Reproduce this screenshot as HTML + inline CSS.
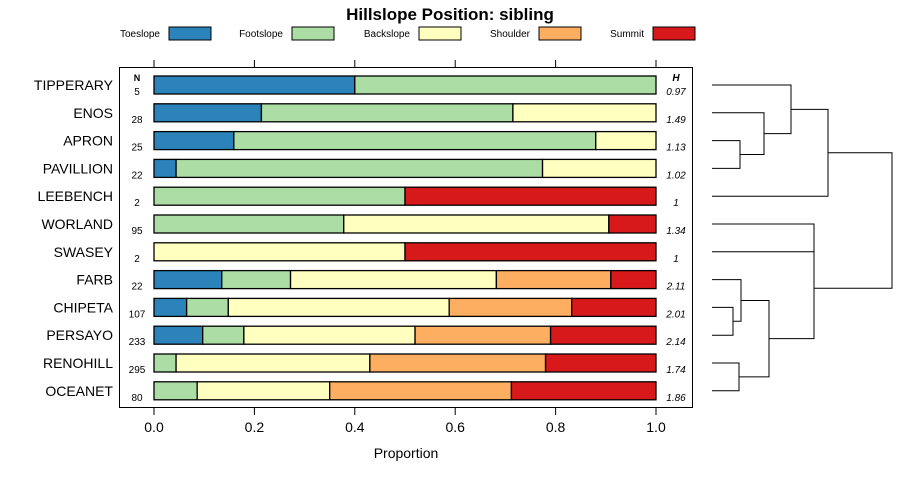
<!DOCTYPE html>
<html><head><meta charset="utf-8"><style>
body{margin:0;background:#fff;font-family:"Liberation Sans",sans-serif}
svg text{font-family:"Liberation Sans",sans-serif}
</style></head><body>
<svg id="c" width="900" height="480" viewBox="0 0 900 480"></svg>
<script>
const categories=["TIPPERARY","ENOS","APRON","PAVILLION","LEEBENCH","WORLAND","SWASEY","FARB","CHIPETA","PERSAYO","RENOHILL","OCEANET"];
const seriesNames=["Toeslope","Footslope","Backslope","Shoulder","Summit"];
const toeslope=[0.40,0.214,0.159,0.044,0,0,0,0.135,0.065,0.097,0,0];
const footslope=[0.60,0.501,0.721,0.730,0.5,0.378,0,0.137,0.083,0.082,0.044,0.086];
const backslope=[0,0.285,0.12,0.226,0,0.528,0.5,0.41,0.44,0.341,0.386,0.264];
const shoulder=[0,0,0,0,0,0,0,0.228,0.244,0.27,0.35,0.362];
const summit=[0,0,0,0,0.5,0.094,0.5,0.09,0.168,0.21,0.22,0.288];
const nValues=[5,28,25,22,2,95,2,22,107,233,295,80];
const hValues=["0.97","1.49","1.13","1.02","1","1.34","1","2.11","2.01","2.14","1.74","1.86"];
const xTicks=[0,0.2,0.4,0.6,0.8,1.0];
const xTickLabels=["0.0","0.2","0.4","0.6","0.8","1.0"];
const colors=["#2b83ba","#abdda4","#ffffbf","#fdae61","#d7191c"];
const series=[toeslope,footslope,backslope,shoulder,summit];
const svg=document.getElementById('c');
const NS="http://www.w3.org/2000/svg";
function mk(t,a,p){const e=document.createElementNS(NS,t);for(const k in a)e.setAttribute(k,a[k]);(p||svg).appendChild(e);return e;}
const x=v=>154+v*502;
const y=i=>85+i*27.8;
// title
let t=mk('text',{x:450,y:20,'text-anchor':'middle','font-size':17,'font-weight':'bold'});t.textContent="Hillslope Position: sibling";


// legend
const legX=[[160,169],[283,292],[410,419],[530,539],[644,653]];
seriesNames.forEach((n,i)=>{
 const g=mk('g',{});
 
 
 const lt=mk('text',{x:legX[i][0],y:37,'text-anchor':'end','font-size':10},g);lt.textContent=n;
 mk('rect',{x:legX[i][1],y:27,width:42,height:13,fill:colors[i],stroke:'#000','stroke-width':1},g);
});
// panel
const p=mk('rect',{x:119.5,y:67.5,width:573,height:340,fill:'none',stroke:'#000','stroke-width':1});


xTicks.forEach((v,i)=>{
 mk('line',{x1:x(v),x2:x(v),y1:60,y2:67,stroke:'#000'});
 mk('line',{x1:x(v),x2:x(v),y1:408,y2:415,stroke:'#000'});
 const tl=mk('text',{x:x(v),y:432,'text-anchor':'middle','font-size':14});tl.textContent=xTickLabels[i];
 
 
});
t=mk('text',{x:406,y:458,'text-anchor':'middle','font-size':14});t.textContent="Proportion";


t=mk('text',{x:137,y:81,'text-anchor':'middle','font-size':9,'font-weight':'bold'});t.textContent="N";
t=mk('text',{x:676,y:81,'text-anchor':'middle','font-size':10,'font-weight':'bold','font-style':'italic'});t.textContent="H";
categories.forEach((c,i)=>{
 const cy=y(i);
 const lab=mk('text',{x:113,y:cy+5,'text-anchor':'end','font-size':14});lab.textContent=c;
 
 
 const nt=mk('text',{x:137,y:cy+10,'text-anchor':'middle','font-size':10});nt.textContent=nValues[i];
 
 
 const ht=mk('text',{x:676,y:cy+10,'text-anchor':'middle','font-size':10,'font-style':'italic'});ht.textContent=hValues[i];
 
 
 let cum=0;
 series.forEach((s,j)=>{
  const v=s[i]; if(v<=0)return;
  const r=mk('rect',{x:x(cum),y:cy-9,width:x(cum+v)-x(cum),height:18,fill:colors[j],stroke:'#000','stroke-width':1.3});
  
  
  cum+=v;
 });
});
// dendrogram
const dg=mk('g',{fill:'none',stroke:'#000','stroke-width':1});


const leaves=y;
function link(ax,ay,bx,by,mx){mk('path',{d:`M${ax},${ay}H${mx}V${by}H${bx}`},dg);}
const L=712;
link(L,leaves(2),L,leaves(3),740);
link(L,leaves(1),740,(leaves(2)+leaves(3))/2,764);
const m1=(leaves(1)+(leaves(2)+leaves(3))/2)/2;
link(L,leaves(0),764,m1,791);
const m2=(leaves(0)+m1)/2;
link(791,m2,L,leaves(4),828);
const mTop=(m2+leaves(4))/2;
link(L,leaves(5),L,leaves(6),814);
const mWS=(leaves(5)+leaves(6))/2;
link(L,leaves(8),L,leaves(9),733);
const mCP=(leaves(8)+leaves(9))/2;
link(L,leaves(7),733,mCP,741);
const mF=(leaves(7)+mCP)/2;
link(L,leaves(10),L,leaves(11),739);
const mRO=(leaves(10)+leaves(11))/2;
link(741,mF,739,mRO,769);
const mB=(mF+mRO)/2;
link(814,mWS,769,mB,814);
const mBot=(mWS+mB)/2;
link(828,mTop,814,mBot,892);
</script>
</body></html>
